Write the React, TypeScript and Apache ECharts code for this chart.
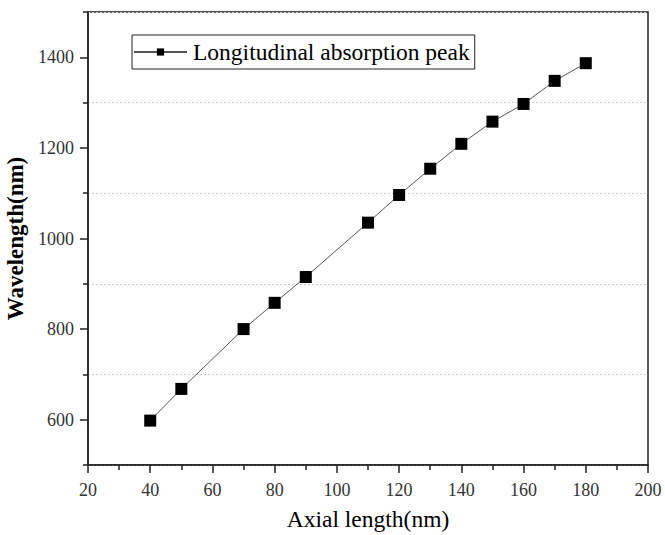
import React, { useEffect, useRef } from "react";
import * as echarts from "echarts";

const axialLength = [40, 50, 70, 80, 90, 110, 120, 130, 140, 150, 160, 170, 180];
const wavelength = [598, 668, 800, 858, 915, 1035, 1096, 1154, 1209, 1258, 1297, 1348, 1387];
const seriesName = "Longitudinal absorption peak";
const yMajorTicks = [600, 800, 1000, 1200, 1400];

export default function App() {
  const ref = useRef<HTMLDivElement>(null);
  useEffect(() => {
    if (!ref.current) return;
    const chart = echarts.init(ref.current, null, { renderer: "svg" });
    const font = "'Liberation Serif', 'Times New Roman', serif";
    const axisColor = "#222";
    chart.setOption({
      animation: false,
      backgroundColor: "#fff",
      grid: {
        left: 88,
        right: 17,
        top: 12,
        bottom: 70,
        containLabel: false,
        outerBoundsMode: "none",
        show: true,
        borderColor: axisColor,
        borderWidth: 1.5,
        backgroundColor: "transparent",
      },
      legend: {
        left: 132,
        top: 35,
        padding: [5, 5, 5, 1],
        itemGap: 0,
        itemWidth: 53,
        itemHeight: 9,
        borderColor: axisColor,
        borderWidth: 1,
        borderRadius: 0,
        textStyle: { fontFamily: font, fontSize: 23.5, color: "#000", padding: [0, 0, 0, 1] },
        data: [{ name: seriesName }],
      },
      xAxis: {
        type: "value",
        min: 20,
        max: 200,
        interval: 20,
        name: "Axial length(nm)",
        nameLocation: "middle",
        nameGap: 42,
        nameTextStyle: { fontFamily: font, fontSize: 23.5, color: "#000" },
        axisLine: { show: true, lineStyle: { color: axisColor, width: 1.5 } },
        axisTick: { show: true, inside: false, length: 8, lineStyle: { color: axisColor, width: 1.5 } },
        minorTick: { show: true, splitNumber: 2, length: 5, lineStyle: { color: axisColor, width: 1.5 } },
        axisLabel: { fontFamily: font, fontSize: 18, color: "#333", margin: 16, formatter: (v: number) => String(v) },
        splitLine: { show: false },
      },
      yAxis: [
        {
          type: "value",
          min: 500,
          max: 1500,
          interval: 100,
          name: "Wavelength(nm)",
          nameLocation: "middle",
          nameGap: 58,
          nameTextStyle: { fontFamily: font, fontSize: 23, fontWeight: "bold", color: "#000" },
          axisLine: { show: true, lineStyle: { color: axisColor, width: 1.5 } },
          axisTick: {
            show: true,
            inside: false,
            length: 8,
            customValues: yMajorTicks,
            lineStyle: { color: axisColor, width: 1.5 },
          },
          axisLabel: {
            fontFamily: font,
            fontSize: 18,
            color: "#333",
            margin: 14,
            customValues: yMajorTicks,
            formatter: (v: number) => String(v),
          },
          splitLine: { show: false },
        },
        {
          type: "value",
          min: 500,
          max: 1500,
          interval: 200,
          position: "left",
          offset: 0,
          axisLine: { show: false },
          axisTick: {
            show: true,
            inside: false,
            length: 5,
            lineStyle: { color: axisColor, width: 1.5 },
          },
          axisLabel: { show: false },
          splitLine: {
            show: true,
            lineStyle: { color: "#ccc", type: [2, 2], width: 1 },
          },
        },
      ],
      series: [
        {
          name: seriesName,
          type: "line",
          yAxisIndex: 0,
          data: axialLength.map((x, i) => [x, wavelength[i]]),
          symbol: "rect",
          symbolSize: 12,
          itemStyle: { color: "#000" },
          lineStyle: { color: "#555", width: 1 },
        },
      ],
    });
    return () => chart.dispose();
  }, []);
  return <div ref={ref} style={{ width: 665, height: 535, position: "absolute", left: 0, top: 0 }} />;
}
